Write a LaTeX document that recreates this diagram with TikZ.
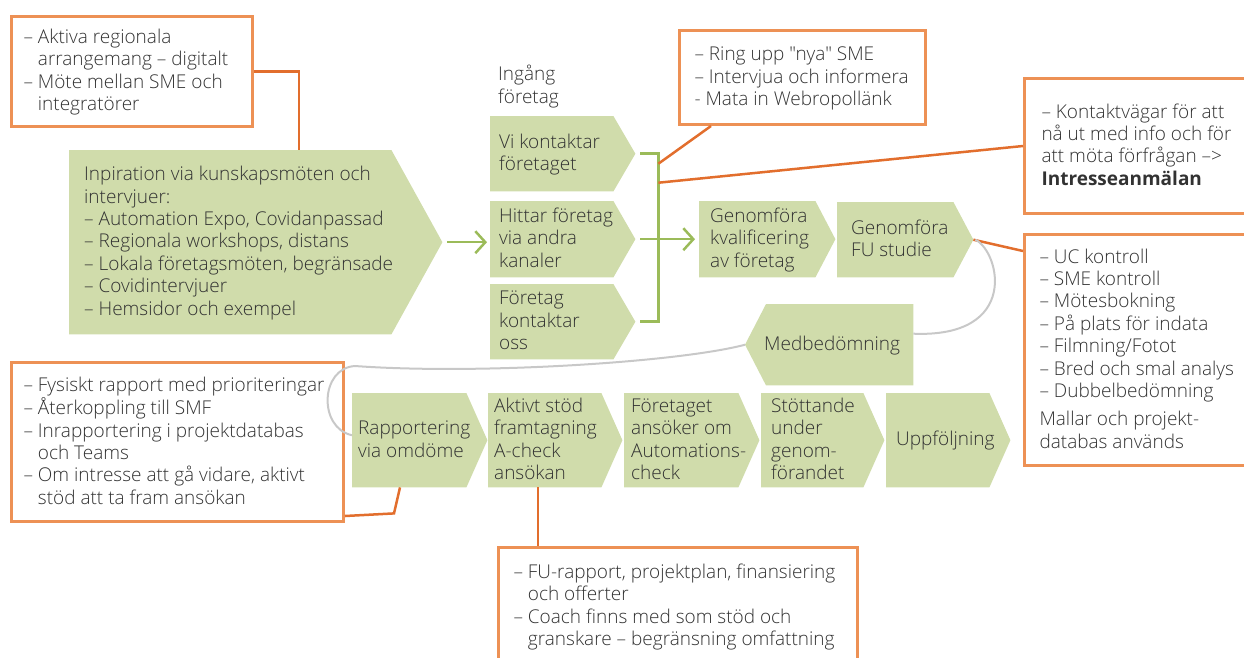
\documentclass[tikz,border=0pt]{standalone}
\usepackage{fontspec}
\IfFontExistsTF{Open Sans Light}
  {\setmainfont{Open Sans Light}[Ligatures=TeXOff, BoldFont={Open Sans Bold}]}
  {\setmainfont{Open Sans}[Ligatures=TeXOff]}
\usetikzlibrary{arrows.meta,backgrounds}

\definecolor{chevgreen}{RGB}{208,220,171}
\definecolor{flowgreen}{RGB}{155,187,89}
\definecolor{boxorange}{RGB}{237,145,85}
\definecolor{linkorange}{RGB}{226,110,45}
\definecolor{loopgray}{RGB}{200,200,200}
\definecolor{txtgray}{RGB}{50,50,50}

\tikzset{
  chev/.style={anchor=north west, inner ysep=0pt, text=txtgray},
  note/.style={draw=boxorange, line width=3pt, anchor=north west, inner ysep=0pt, text=txtgray},
  link/.style={draw=linkorange, line width=2.5pt},
  flow/.style={draw=flowgreen, line width=2.5pt},
  flowarr/.style={flow, -{Straight Barb[length=10pt,width=22pt]}},
  loop/.style={draw=loopgray, line width=2pt}
}

% green arrow shape behind a body node
\newcommand\tipeast[2]{%
  \begin{scope}[on background layer]
    \fill[chevgreen] (#1.north west) -- (#1.north east) -- ([xshift=#2]#1.east)
      -- (#1.south east) -- (#1.south west) -- cycle;
  \end{scope}
  \coordinate (#1-tip) at ([xshift=#2]#1.east);}
\newcommand\tipwest[2]{%
  \begin{scope}[on background layer]
    \fill[chevgreen] (#1.north east) -- (#1.north west) -- ([xshift=-#2]#1.west)
      -- (#1.south west) -- (#1.south east) -- cycle;
  \end{scope}
  \coordinate (#1-tip) at ([xshift=-#2]#1.west);}

% fixed-width block of unbroken lines
\newcommand\lines[2]{\makebox[#1][l]{\begin{tabular}{@{}l@{}}\rule{0pt}{18pt}#2\end{tabular}}}
\newcommand\ind{\phantom{– }}

\begin{document}
\begin{tikzpicture}[x=1pt, y=-1pt, font=\fontsize{19pt}{22.4pt}\selectfont]
  \useasboundingbox (0,0) rectangle (1244,657);

  % inspiration
  \node[chev, minimum width=322pt, minimum height=184pt, inner xsep=15pt] (insp) at (69,150)
    {\lines{292pt}{Inpiration via kunskapsmöten och\\intervjuer:\\– Automation Expo, Covidanpassad\\– Regionala workshops, distans\\– Lokala företagsmöten, begränsade\\– Covidintervjuer\\– Hemsidor och exempel}};
  \tipeast{insp}{51pt}

  % ingang
  \node[anchor=north west, inner sep=0pt, align=left, text=txtgray] (ingang) at (498,65) {Ingång\\företag};
  \node[chev, minimum width=123pt, minimum height=75pt, inner xsep=9pt] (vi) at (490,116) {\lines{105pt}{Vi kontaktar\\företaget}};
  \tipeast{vi}{22pt}
  \node[chev, minimum width=123pt, minimum height=76pt, inner xsep=9pt] (hit) at (490,201) {\lines{105pt}{Hittar företag\\via andra\\kanaler}};
  \tipeast{hit}{22pt}
  \node[chev, minimum width=123pt, minimum height=75pt, inner xsep=9pt] (oss) at (490,284) {\lines{105pt}{Företag\\kontaktar\\oss}};
  \tipeast{oss}{22pt}

  % kvalificering
  \node[chev, minimum width=116pt, minimum height=76pt, inner xsep=11pt] (kval) at (699,201) {\lines{94pt}{Genomföra\\kvalificering\\av företag}};
  \tipeast{kval}{20pt}
  \node[chev, minimum width=116pt, minimum height=75pt, inner xsep=14pt] (fu) at (837,202) {\lines{88pt}{Genomföra\\FU studie}};
  \tipeast{fu}{20pt}
  \node[chev, minimum width=147pt, minimum height=81pt, inner xsep=0pt] (med) at (766,304) {\lines{147pt}{\hspace*{-2pt}Medbedömning}};
  \tipwest{med}{21pt}

  % bottom row
  \node[chev, minimum width=114pt, minimum height=94pt, inner xsep=6pt] (rap) at (352,393) {\lines{102pt}{Rapportering\\via omdöme}};
  \tipeast{rap}{21pt}
  \node[chev, minimum width=113pt, minimum height=94pt, inner xsep=6pt] (akt) at (488,393) {\lines{101pt}{Aktivt stöd\\framtagning\\A-check\\ansökan}};
  \tipeast{akt}{21pt}
  \node[chev, minimum width=114pt, minimum height=94pt, inner xsep=7pt] (ansok) at (624,393) {\lines{100pt}{Företaget\\ansöker om\\Automations-\\check}};
  \tipeast{ansok}{21pt}
  \node[chev, minimum width=102pt, minimum height=94pt, inner xsep=10pt] (stod) at (761,393) {\lines{82pt}{Stöttande\\under\\genom-\\förandet}};
  \tipeast{stod}{21pt}
  \node[chev, minimum width=103pt, minimum height=94pt, inner xsep=10pt] (upp) at (886,393) {\lines{83pt}{Uppföljning}};
  \tipeast{upp}{21pt}

  % notes
  \node[note, minimum width=241pt, minimum height=110pt, inner xsep=12pt] (aktiva) at (10,15)
    {\lines{217pt}{– Aktiva regionala\\\ind arrangemang – digitalt\\– Möte mellan SME och\\\ind integratörer}};
  \node[note, minimum width=246pt, minimum height=94pt, inner xsep=15pt] (ring) at (678,29)
    {\lines{216pt}{– Ring upp "nya" SME\\– Intervjua och informera\\- Mata in Webropollänk}};
  \node[note, minimum width=280pt, minimum height=135pt, inner xsep=17pt] (kontakt) at (1023,77)
    {\lines{246pt}{– Kontaktvägar för att\\nå ut med info och för\\att möta förfrågan –>\\\textbf{Intresseanmälan}}};
  \node[note, minimum width=280pt, minimum height=231pt, inner xsep=15pt] (uc) at (1023,233)
    {\lines{250pt}{– UC kontroll\\– SME kontroll\\– Mötesbokning\\– På plats för indata\\– Filmning/Fotot\\– Bred och smal analys\\– Dubbelbedömning\\[6pt]Mallar och projekt-\\databas används}};
  \node[note, minimum width=332pt, minimum height=159pt, inner xsep=12pt] (fysiskt) at (10,361)
    {\lines{308pt}{– Fysiskt rapport med prioriteringar\\– Återkoppling till SMF\\– Inrapportering i projektdatabas\\\ind och Teams\\– Om intresse att gå vidare, aktivt\\\ind stöd att ta fram ansökan}};
  \node[note, minimum width=359pt, minimum height=118pt, inner xsep=15pt] (coach) at (497,546)
    {\lines{329pt}{– FU-rapport, projektplan, finansiering\\\ind och offerter\\– Coach finns med som stöd och\\\ind granskare – begränsning omfattning}};

  % green flow
  \draw[flowarr] ([xshift=5pt]insp-tip) -- ([xshift=-3pt]insp-tip -| hit.west);
  \draw[flow] ([xshift=5pt]vi-tip) -- ++(18pt,0) |- ([xshift=5pt]oss-tip);
  \coordinate (fork) at ([xshift=23pt]vi-tip);
  \draw[flowarr] ([xshift=5pt]hit-tip) -- ([xshift=-4pt]hit-tip -| kval.west);

  % orange links
  \draw[link] (aktiva.east) -| ([xshift=230pt]insp.north west);
  \draw[link] ([yshift=-10pt]fork) -- ([xshift=33pt]ring.south west);
  \draw[link] ([yshift=-29pt]fork) -- (kontakt.west);
  \draw[link] (fu-tip) -- ([yshift=-18pt]uc.north west);
  \draw[link] ([xshift=48pt]rap.south west) -- ++(-6pt,-26pt) -- ([yshift=7pt]fysiskt.south east);
  \draw[link] ([xshift=50pt]akt.south west) -- ([xshift=41pt]coach.north west);

  % gray loops
  \draw[loop] ([xshift=2pt]fu-tip) .. controls (1000,252) and (1020,338) .. ([yshift=11pt]med.east);
  \draw[loop] (med-tip) .. controls (680,362) and (480,375) .. (355,366)
    .. controls (320,368) and (318,428) .. ([yshift=5pt]rap.west);
\end{tikzpicture}
\end{document}
